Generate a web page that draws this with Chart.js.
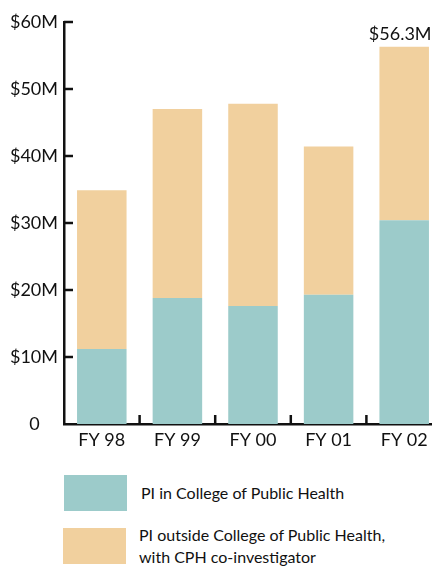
<!DOCTYPE html>
<html>
<head>
<meta charset="utf-8">
<script src="https://cdn.jsdelivr.net/npm/chart.js@4"></script>
<style>
  html, body { margin: 0; padding: 0; background: #fff; overflow: hidden; }
  body { width: 432px; height: 566px; position: relative; font-family: Lato, sans-serif; color: #111; }
  #wrap { position: absolute; left: 0; top: 0; width: 442px; height: 460px; }
  .swatch { position: absolute; width: 63px; height: 36px; }
  .label { position: absolute; font-size: 16px; line-height: 22px; white-space: nowrap; }
</style>
</head>
<body>
<div id="wrap"><canvas id="chart"></canvas></div>

<div class="swatch" style="left:64px; top:475px; background:#9ccbca;"></div>
<div class="label" style="left:141px; top:482px;">PI in College of Public Health</div>
<div class="swatch" style="left:63px; top:528px; background:#f1d09e;"></div>
<div class="label" style="left:139px; top:524px;">PI outside College of Public Health,<br>with CPH co-investigator</div>

<script>
// Funding by fiscal year, in $M
const years = ['FY 98', 'FY 99', 'FY 00', 'FY 01', 'FY 02'];
const inCph = [11.2, 18.8, 17.6, 19.3, 30.4];
const outsideCph = [23.7, 28.2, 30.2, 22.1, 25.9];
const yTicks = [0, 10, 20, 30, 40, 50, 60];
const topLabel = '$56.3M';

const tealColor = '#9ccbca';
const sandColor = '#f1d09e';

// Draws the inward tick marks and the total above the last bar
const extrasPlugin = {
  id: 'extras',
  afterDatasetsDraw(chart) {
    const ctx = chart.ctx;
    const x = chart.scales.x;
    const y = chart.scales.y;
    const area = chart.chartArea;
    ctx.save();
    ctx.strokeStyle = '#111';
    ctx.lineWidth = 2.5;

    // y ticks pointing into the plot
    yTicks.forEach((v) => {
      if (v === 0) return;
      const py = y.getPixelForValue(v);
      ctx.beginPath();
      ctx.moveTo(area.left, py);
      ctx.lineTo(area.left + 9, py);
      ctx.stroke();
    });

    // x ticks between the categories
    for (let i = 0; i < years.length - 1; i++) {
      const px = (x.getPixelForValue(i) + x.getPixelForValue(i + 1)) / 2;
      ctx.beginPath();
      ctx.moveTo(px, area.bottom);
      ctx.lineTo(px, area.bottom - 9);
      ctx.stroke();
    }

    // total label over the last bar
    const meta = chart.getDatasetMeta(1);
    const last = meta.data[meta.data.length - 1];
    ctx.fillStyle = '#111';
    ctx.font = '18px Lato';
    ctx.textAlign = 'center';
    ctx.textBaseline = 'bottom';
    ctx.fillText(topLabel, last.x - 4, last.y - 4);
    ctx.restore();
  },
};

const ctx = document.getElementById('chart').getContext('2d');
new Chart(ctx, {
  type: 'bar',
  data: {
    labels: years,
    datasets: [
      {
        label: 'PI in College of Public Health',
        data: inCph,
        backgroundColor: tealColor,
        barPercentage: 0.655,
        categoryPercentage: 1,
      },
      {
        label: 'PI outside College of Public Health, with CPH co-investigator',
        data: outsideCph,
        backgroundColor: sandColor,
        barPercentage: 0.655,
        categoryPercentage: 1,
      },
    ],
  },
  options: {
    responsive: true,
    maintainAspectRatio: false,
    animation: false,
    layout: { padding: { top: 22, right: 0, bottom: 0, left: 0 } },
    plugins: {
      legend: { display: false },
      tooltip: { enabled: false },
    },
    scales: {
      x: {
        stacked: true,
        grid: { display: false, drawTicks: false },
        border: { display: true, color: '#111', width: 2.5 },
        ticks: {
          color: '#111',
          font: { family: 'Lato', size: 18 },
          padding: 5,
          maxRotation: 0,
        },
        afterFit(scale) {
          scale.height = 36;
        },
      },
      y: {
        stacked: true,
        min: 0,
        max: 60,
        afterBuildTicks(scale) {
          scale.ticks = yTicks.map((v) => ({ value: v }));
        },
        grid: { display: false, drawTicks: false },
        border: { display: true, color: '#111', width: 2.5 },
        ticks: {
          color: '#111',
          font: { family: 'Lato', size: 18 },
          padding: 6,
          callback: function (v) {
            return v === 0 ? '0    ' : '$' + v + 'M';
          },
        },
        afterFit(scale) {
          scale.width = 64;
        },
      },
    },
  },
  plugins: [extrasPlugin],
});
</script>
</body>
</html>
